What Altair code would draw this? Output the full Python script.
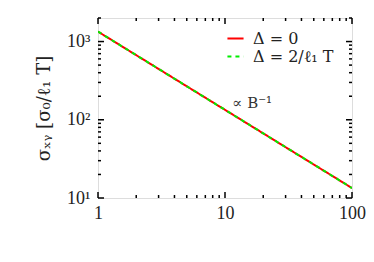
import altair as alt
import pandas as pd

# data
B = [1, 2, 5, 10, 20, 50, 100]
sigma_0 = [1340, 670, 268, 134, 67, 26.8, 13.4]
sigma_2 = [1340, 670, 268, 134, 67, 26.8, 13.4]
series = ["Δ = 0", "Δ = 2/ℓ₁ T"]
colors = ["#ff0000", "#00ee00"]

x_major = [1, 10, 100]
x_minor = [2, 3, 4, 5, 6, 7, 8, 9, 20, 30, 40, 50, 60, 70, 80, 90]
y_major = [10, 100, 1000]
y_minor = [20, 30, 40, 50, 60, 70, 80, 90, 200, 300, 400, 500, 600, 700, 800, 900, 2000]

ann_x = [11.4]
ann_y = [164]
ann_text = ["∝ B⁻¹"]

FONT = "Liberation Serif"
FONT2 = "DejaVu Serif"
W, H = 254, 180

rows = []
for b, s in zip(B, sigma_0):
    rows.append({"B": b, "s": s, "series": series[0]})
for b, s in zip(B, sigma_2):
    rows.append({"B": b, "s": s, "series": series[1]})
df = pd.DataFrame(rows)

xs = alt.Scale(type="log", domain=[1, 100], nice=False)
ys = alt.Scale(type="log", domain=[10, 2000], nice=False)

lines = alt.Chart(df).mark_line(strokeWidth=2, clip=True).encode(
    x=alt.X("B:Q", scale=xs,
            axis=alt.Axis(values=x_major, format="d", ticks=False, domain=False,
                          grid=False, labelFont=FONT, labelFontSize=18,
                          labelColor="#222", labelPadding=6, title=None,
                          labelFlush=False)),
    y=alt.Y("s:Q", scale=ys,
            axis=alt.Axis(values=y_major, ticks=False, domain=False, grid=False,
                          labelExpr="datum.value == 10 ? '10¹' : datum.value == 100 ? '10²' : '10³'",
                          labelFont=FONT, labelFontSize=18, labelColor="#222",
                          labelPadding=8,
                          title="σₓᵧ  [σ₀/ℓ₁ T]", titleFont=FONT2, titleFontSize=18,
                          titleFontWeight="normal", titleColor="#222",
                          titlePadding=13)),
    color=alt.Color("series:N", scale=alt.Scale(domain=series, range=colors),
                    legend=alt.Legend(orient="none", legendX=128, legendY=11,
                                      title=None, symbolType="stroke",
                                      symbolStrokeWidth=2, symbolSize=260,
                                      labelFont=FONT2, labelFontSize=16,
                                      labelColor="#222", rowPadding=0,
                                      labelOffset=8)),
    strokeDash=alt.StrokeDash("series:N",
                              scale=alt.Scale(domain=series, range=[[1, 0], [4, 4]]),
                              legend=alt.Legend(orient="none", legendX=128, legendY=11,
                                                title=None)),
)

def tick_layer(vals, axis, length):
    d = pd.DataFrame({"v": vals})
    base = alt.Chart(d).mark_rule(color="black", strokeWidth=1.5)
    if axis == "x":
        bot = base.encode(x=alt.X("v:Q", scale=xs), y=alt.value(H), y2=alt.value(H - length))
        top = base.encode(x=alt.X("v:Q", scale=xs), y=alt.value(0), y2=alt.value(length))
        return bot + top
    else:
        left = base.encode(y=alt.Y("v:Q", scale=ys), x=alt.value(0), x2=alt.value(length))
        right = base.encode(y=alt.Y("v:Q", scale=ys), x=alt.value(W), x2=alt.value(W - length))
        return left + right

ann = alt.Chart(pd.DataFrame({"x": ann_x, "y": ann_y, "t": ann_text})).mark_text(
    font=FONT2, fontSize=15, align="left", baseline="middle",
    color="#333").encode(x=alt.X("x:Q", scale=xs), y=alt.Y("y:Q", scale=ys), text="t:N")

chart = alt.layer(
    lines,
    tick_layer(x_major, "x", 6), tick_layer(x_minor, "x", 3),
    tick_layer(y_major, "y", 6), tick_layer(y_minor, "y", 3),
    ann,
).properties(
    width=W, height=H,
    autosize=alt.AutoSizeParams(type="none"),
    padding={"left": 90, "top": 10, "right": 14, "bottom": 56},
).configure_view(stroke="black", strokeWidth=2).configure(background="white")

chart.save("out.html", embed_options={"renderer": "svg", "actions": False})
